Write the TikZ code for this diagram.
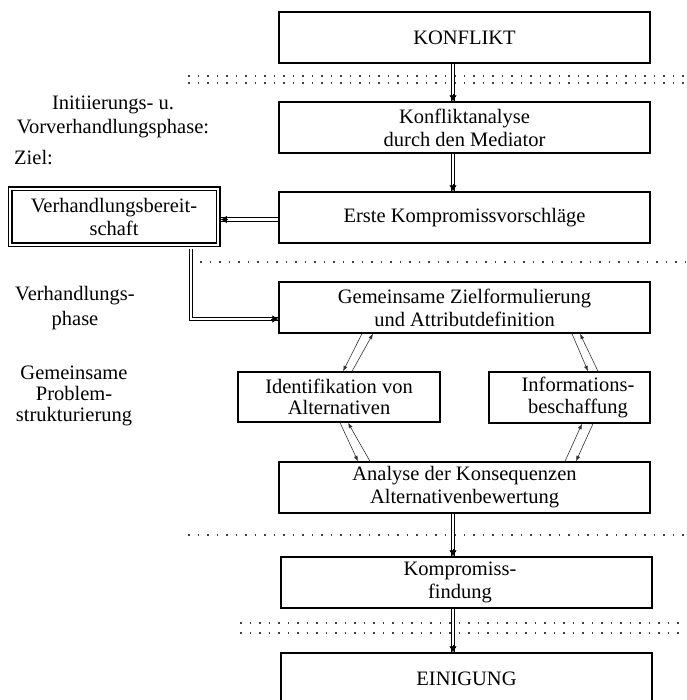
\documentclass[tikz,border=0pt]{standalone}
\usepackage{fontspec}
\setmainfont{Liberation Serif}
\usetikzlibrary{arrows.meta,calc}
\newcommand\diafont{\fontsize{20.5}{23}\selectfont}
\newcommand\diafontl{\fontsize{20.5}{24.5}\selectfont}
\begin{document}
\begin{tikzpicture}[x=1pt,y=-1pt,
  box/.style={draw, line width=1.4pt, minimum width=371pt, minimum height=51pt, inner sep=0pt, align=center, font=\diafont},
  lbl/.style={align=center, inner sep=0pt, font=\diafontl},
  dbl/.style={double, double distance=2.6pt, line width=1.1pt},
  tipa/.style={-{Latex[length=6pt,width=7.5pt]}, line width=0.6pt},
  sar/.style={-{Latex[length=5.5pt,width=4pt]}, line width=0.6pt, black!80},
  dotl/.style={line width=1.5pt, dash pattern=on 1.5pt off 8pt, black!75}]
\useasboundingbox (0,0) rectangle (686,700);
\clip (0,0) rectangle (686,700);

% dotted phase separators
\draw[dotl] (188,76) -- (686,76);
\draw[dotl] (188,83) -- (686,83);
\draw[dotl] (200,262) -- (686,262);
\draw[dotl] (188,535) -- (686,535);
\draw[dotl] (240,623) -- (686,623);
\draw[dotl] (240,633) -- (686,633);

% boxes
\node[box] (k)  at (464.5,37.5)  {KONFLIKT};
\node[box] (ka) at (464.5,127.5) {Konfliktanalyse\\durch den Mediator};
\node[box] (ek) at (464.5,217.5) {Erste Kompromissvorschläge};
\node[box] (gz) at (464.5,307.5) {Gemeinsame Zielformulierung\\und Attributdefinition};
\node[box, minimum width=202pt, minimum height=50pt, font=\fontsize{20.5}{21}\selectfont] (ia) at (339,397) {Identifikation von\\Alternativen};
\node[box, minimum width=161pt] (ib) at (569.5,397.5) {};
\node[lbl, font=\fontsize{20.5}{22}\selectfont] (ibt) at (578,397.5) {Informations-\\beschaffung};
\node[box] (an) at (464.5,487.5) {Analyse der Konsequenzen\\Alternativenbewertung};
\node[box] (kf) at (466.5,582.5) {};
\node[lbl, font=\diafont] (kft) at (460,582.5) {Kompromiss-\\findung};
\node[box] (ei) at (466.5,678.5) {EINIGUNG};
\node[draw, double, double distance=2.8pt, line width=1.1pt, outer sep=2.8pt,
      minimum width=208pt, minimum height=56pt, inner sep=0pt, align=center, font=\diafont]
      (vb) at (114,217) {Verhandlungsbereit-\\schaft};

% left labels
\node[lbl] (t1) at (113,117) {Initiierungs- u.\\Vorverhandlungsphase:};
\node[lbl, anchor=west] (t2) at (14,158) {Ziel:};
\node[lbl] (t3) at (75,308) {Verhandlungs-\\phase};
\node[lbl, font=\fontsize{20.5}{21}\selectfont] (t4) at (74,396) {Gemeinsame\\Problem-\\strukturierung};

% vertical double arrows
\coordinate (ax) at (453,0);
\draw[dbl] (k.south -| ax) -- (ka.north -| ax);
\draw[tipa] ($(ka.north -| ax)+(0,-7)$) -- (ka.north -| ax);
\draw[dbl] (ka.south -| ax) -- (ek.north -| ax);
\draw[tipa] ($(ek.north -| ax)+(0,-7)$) -- (ek.north -| ax);
\draw[dbl] (an.south -| ax) -- (kf.north -| ax);
\draw[tipa] ($(kf.north -| ax)+(0,-7)$) -- (kf.north -| ax);
\draw[dbl] (kf.south -| ax) -- (ei.north -| ax);
\draw[tipa] ($(ei.north -| ax)+(0,-7)$) -- (ei.north -| ax);

% Erste -> Verhandlungsbereitschaft
\coordinate (hy) at (0,219.5);
\draw[dbl] (ek.west |- hy) -- (vb.east |- hy);
\draw[tipa] ($(vb.east |- hy)+(7,0)$) -- (vb.east |- hy);

% Verhandlungsbereitschaft -> Gemeinsame Zielformulierung
\coordinate (lc) at (191,319);
\draw[dbl, shorten <=1pt] (vb.south -| lc) -- (lc) -- (lc -| gz.west);
\draw[tipa] ($(lc -| gz.west)+(-7,0)$) -- (lc -| gz.west);

% diagonal pairs
\draw[sar] ([xshift=-102.5pt]gz.south) -- ([xshift=4pt]ia.north);
\draw[sar] ([xshift=13pt]ia.north) -- ([xshift=-91.5pt]gz.south);
\draw[sar] ([xshift=107.5pt]gz.south) -- ([xshift=18.5pt]ib.north);
\draw[sar] ([xshift=28.5pt]ib.north) -- ([xshift=115.5pt]gz.south);
\draw[sar] ([xshift=1pt]ia.south) -- ([xshift=-106.5pt]an.north);
\draw[sar] ([xshift=-94.5pt]an.north) -- ([xshift=9pt]ia.south);
\draw[sar] ([xshift=100.5pt]an.north) -- ([xshift=12.5pt]ib.south);
\draw[sar] ([xshift=23.5pt]ib.south) -- ([xshift=111.5pt]an.north);
\end{tikzpicture}
\end{document}
